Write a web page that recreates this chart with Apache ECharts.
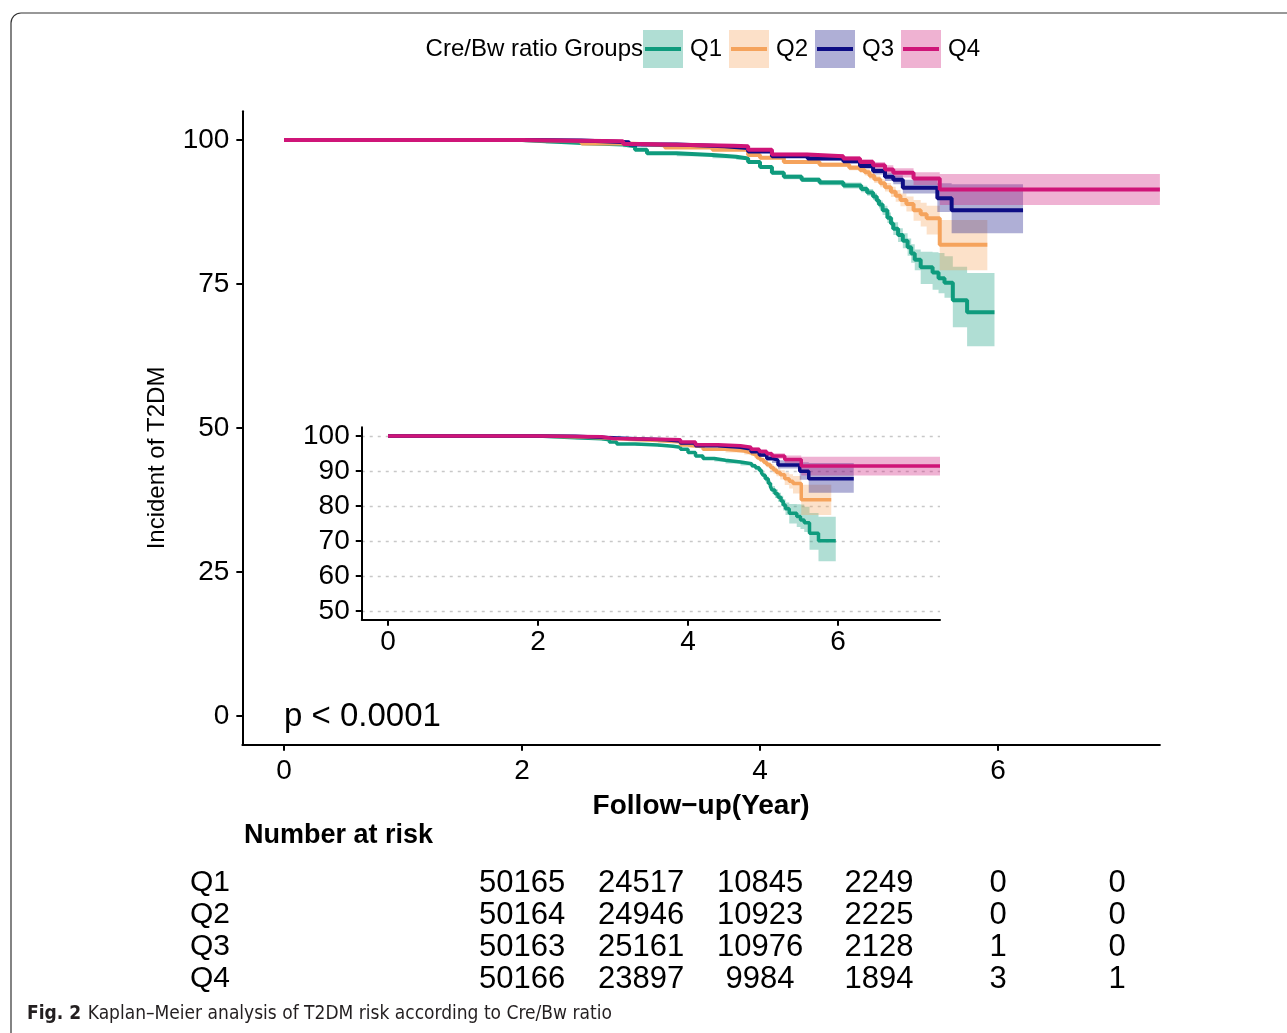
<!DOCTYPE html>
<html>
<head>
<meta charset="utf-8">
<title>Kaplan-Meier analysis of T2DM risk according to Cre/Bw ratio</title>
<script src="https://cdn.jsdelivr.net/npm/echarts@6/dist/echarts.min.js"></script>
<style>
  html, body { margin: 0; padding: 0; background: #fff; }
  #chart-container { width: 1287px; height: 1033px; }
</style>
</head>
<body>
<div id="chart-container"></div>
<script>
// ---- data (survival in %, time in years) ----
var groups = ['Q1', 'Q2', 'Q3', 'Q4'];

var q1Time  = [0, 2.0, 2.2, 2.5, 2.85, 2.95, 3.05, 3.3, 3.6, 3.8, 3.9, 4.0, 4.1, 4.2, 4.35, 4.5, 4.7, 4.85, 4.9, 4.95, 4.98, 5.0, 5.03, 5.07, 5.1, 5.12, 5.16, 5.2, 5.24, 5.27, 5.3, 5.35, 5.45, 5.5, 5.55, 5.62, 5.74, 5.97];
var q1Surv  = [100, 99.8, 99.5, 99.2, 98.9, 98.3, 97.7, 97.4, 97.1, 96.8, 96.2, 95.3, 94.3, 93.6, 93.1, 92.6, 92.1, 91.5, 90.9, 90.2, 89.5, 88.8, 87.8, 86.5, 85.5, 84.6, 83.5, 82.5, 81.4, 80.3, 79.2, 77.9, 77.0, 76.0, 75.2, 72.2, 70.1, 70.1];
var q1Lower = [100, 99.7, 99.4, 99.05, 98.75, 98.1, 97.5, 97.2, 96.85, 96.55, 95.9, 95.0, 93.95, 93.2, 92.7, 92.15, 91.6, 90.95, 90.3, 89.6, 88.85, 88.1, 87.0, 85.6, 84.5, 83.5, 82.3, 81.2, 79.9, 78.7, 77.4, 75.0, 74.0, 73.4, 72.6, 67.5, 64.2, 64.2];
var q1Upper = [100, 99.9, 99.6, 99.35, 99.05, 98.5, 97.9, 97.6, 97.35, 97.05, 96.5, 95.6, 94.65, 94.0, 93.5, 93.05, 92.6, 92.05, 91.5, 90.8, 90.15, 89.5, 88.6, 87.4, 86.5, 85.7, 84.7, 83.8, 82.9, 81.9, 81.0, 80.6, 80.5, 80.4, 79.8, 78.0, 76.9, 76.9];

var q2Time  = [0, 2.0, 2.5, 2.9, 3.2, 3.6, 3.9, 4.0, 4.2, 4.5, 4.75, 4.84, 4.88, 4.92, 4.96, 5.01, 5.05, 5.1, 5.14, 5.18, 5.23, 5.29, 5.35, 5.4, 5.51, 5.91];
var q2Surv  = [100, 99.8, 99.4, 99.1, 98.7, 98.3, 97.4, 96.9, 96.2, 95.7, 95.2, 94.8, 94.4, 93.8, 93.2, 92.5, 91.8, 91.0, 90.3, 89.6, 88.9, 87.8, 87.1, 86.4, 81.8, 81.8];
var q2Lower = [100, 99.7, 99.3, 98.95, 98.5, 98.1, 97.15, 96.6, 95.9, 95.3, 94.75, 94.3, 93.85, 93.2, 92.55, 91.8, 91.05, 90.1, 89.3, 88.5, 87.6, 86.0, 85.0, 83.6, 77.4, 77.4];
var q2Upper = [100, 99.9, 99.5, 99.25, 98.9, 98.5, 97.65, 97.2, 96.5, 96.1, 95.65, 95.3, 94.95, 94.4, 93.85, 93.2, 92.55, 91.9, 91.3, 90.7, 90.2, 89.6, 89.1, 88.6, 86.1, 86.1];

var q3Time  = [0, 2.0, 2.5, 2.9, 3.3, 3.7, 3.9, 4.1, 4.4, 4.7, 4.84, 4.95, 5.05, 5.12, 5.2, 5.49, 5.61, 6.21];
var q3Surv  = [100, 99.9, 99.6, 99.2, 98.9, 98.6, 98.0, 97.2, 96.8, 96.3, 95.5, 94.6, 93.6, 93.1, 91.7, 89.9, 87.8, 87.8];
var q3Lower = [100, 99.8, 99.5, 99.05, 98.7, 98.4, 97.75, 96.9, 96.45, 95.9, 95.0, 94.0, 92.9, 92.3, 90.7, 87.5, 83.8, 83.8];
var q3Upper = [100, 100, 99.7, 99.35, 99.1, 98.8, 98.25, 97.5, 97.15, 96.7, 96.0, 95.2, 94.3, 93.9, 93.1, 92.5, 92.3, 92.3];

var q4Time  = [0, 2.0, 2.85, 3.0, 3.77, 3.9, 4.1, 4.4, 4.7, 4.84, 4.95, 5.05, 5.12, 5.29, 5.51, 7.36];
var q4Surv  = [100, 99.8, 99.3, 99.0, 98.9, 98.3, 97.5, 97.2, 96.8, 96.2, 95.6, 94.9, 94.3, 93.3, 91.4, 91.4];
var q4Lower = [100, 99.7, 99.15, 98.85, 98.7, 98.05, 97.2, 96.85, 96.4, 95.7, 95.0, 94.2, 93.5, 92.2, 88.7, 88.7];
var q4Upper = [100, 99.9, 99.45, 99.15, 99.1, 98.55, 97.8, 97.55, 97.2, 96.7, 96.2, 95.6, 95.1, 94.4, 94.1, 94.1];

// number at risk table
var riskTimes = [2, 3, 4, 5, 6, 7];
var riskQ1 = [50165, 24517, 10845, 2249, 0, 0];
var riskQ2 = [50164, 24946, 10923, 2225, 0, 0];
var riskQ3 = [50163, 25161, 10976, 2128, 1, 0];
var riskQ4 = [50166, 23897, 9984, 1894, 3, 1];

var mainYTicks = [0, 25, 50, 75, 100];
var insetYTicks = [50, 60, 70, 80, 90, 100];
var xTicks = [0, 2, 4, 6];

// ---- styling ----
var lineColors = ['#0F9B7D', '#F5A35C', '#0D0D84', '#CF1578'];
var bandColors = ['rgba(15,155,125,0.33)', 'rgba(245,163,92,0.33)', 'rgba(13,13,132,0.33)', 'rgba(207,21,120,0.33)'];
var keyFills = ['#b0ded4', '#fce0c8', '#afafd6', '#efb2d2'];
var FONT = "'Liberation Sans', Arial, sans-serif";
var NARROW = "'Liberation Sans Narrow', 'DejaVu Sans Condensed', 'Liberation Sans', sans-serif";

var times = [q1Time, q2Time, q3Time, q4Time];
var survs = [q1Surv, q2Surv, q3Surv, q4Surv];
var lowers = [q1Lower, q2Lower, q3Lower, q4Lower];
var uppers = [q1Upper, q2Upper, q3Upper, q4Upper];
var risks = [riskQ1, riskQ2, riskQ3, riskQ4];

var xMin = -0.35, xMax = 7.36;

function pairs(t, v) {
  return t.map(function (x, i) { return [x, v[i]]; });
}

// confidence band as one stepped polygon, placed with the axis scales
function bandRenderer(i) {
  return function (params, api) {
    var t = times[i], lo = lowers[i], up = uppers[i], n = t.length;
    var pts = [];
    for (var j = 0; j < n; j++) {
      pts.push(api.coord([t[j], up[j]]));
      if (j < n - 1) pts.push(api.coord([t[j + 1], up[j]]));
    }
    for (var m = n - 1; m >= 0; m--) {
      if (m < n - 1) pts.push(api.coord([t[m + 1], lo[m]]));
      pts.push(api.coord([t[m], lo[m]]));
    }
    return {
      type: 'polygon',
      shape: { points: pts },
      style: { fill: bandColors[i] }
    };
  };
}

// one number of the risk table, centred on its time column
function riskRenderer(params, api) {
  var p = api.coord([api.value(0), api.value(1)]);
  return {
    type: 'text', x: p[0], y: p[1],
    style: {
      text: String(api.value(2)), fill: '#000', font: '31px ' + FONT,
      textAlign: 'center', textVerticalAlign: 'middle'
    }
  };
}

var dom = document.getElementById('chart-container');
var myChart = echarts.init(dom, null, { renderer: 'canvas' });

var series = [];
// 0 = main panel, 1 = inset
[0, 1].forEach(function (k) {
  groups.forEach(function (g, i) {
    series.push({
      type: 'custom', xAxisIndex: k, yAxisIndex: k, silent: true, clip: true,
      data: [[times[i][0], survs[i][0]]],
      renderItem: bandRenderer(i), z: 1
    });
  });
  groups.forEach(function (g, i) {
    series.push({
      name: g, type: 'line', xAxisIndex: k, yAxisIndex: k, step: 'end',
      data: pairs(times[i], survs[i]), symbol: 'none', silent: true,
      lineStyle: { color: lineColors[i], width: k === 0 ? 4 : 3.5 }, z: 3
    });
  });
});

// number at risk
groups.forEach(function (g, i) {
  series.push({
    type: 'custom', xAxisIndex: 2, yAxisIndex: 2, silent: true,
    data: riskTimes.map(function (t, j) { return [t, i, risks[i][j]]; }),
    renderItem: riskRenderer
  });
});

var axisLine = { show: true, onZero: false, lineStyle: { color: '#000', width: 2 } };
var axisTick = { show: true, length: 6, lineStyle: { color: '#000', width: 2 } };

// legend drawn as key boxes like the figure
var graphics = [
  { type: 'rect', shape: { x: 11, y: 13, width: 1400, height: 1100, r: 10 },
    style: { fill: 'none', stroke: '#333', lineWidth: 1.2 }, silent: true },
  { type: 'text', x: 643, y: 49,
    style: { text: 'Cre/Bw ratio Groups', font: '24px ' + FONT, fill: '#000', textAlign: 'right', textVerticalAlign: 'middle' } },
  { type: 'text', x: 284, y: 717,
    style: { text: 'p < 0.0001', font: '33px ' + FONT, fill: '#000', textAlign: 'left', textVerticalAlign: 'middle' } },
  { type: 'text', x: 157, y: 458, rotation: Math.PI / 2,
    style: { text: 'Incident of T2DM', font: '24px ' + FONT, fill: '#000', textAlign: 'center', textVerticalAlign: 'middle' } },
  { type: 'text', x: 244, y: 836,
    style: { text: 'Number at risk', font: 'bold 27px ' + FONT, fill: '#000', textAlign: 'left', textVerticalAlign: 'middle' } },
  { type: 'text', x: 27, y: 1014,
    style: {
      text: '{b|Fig. 2}  {r|Kaplan\u2013Meier analysis of T2DM risk according to Cre/Bw ratio}',
      textVerticalAlign: 'middle',
      rich: {
        b: { font: 'bold 19px ' + NARROW, fill: '#231f20' },
        r: { font: '19px ' + NARROW, fill: '#231f20' }
      }
    } }
];
groups.forEach(function (g, i) {
  var x0 = 643 + i * 86;
  graphics.push({ type: 'rect', shape: { x: x0, y: 30, width: 40, height: 38 }, style: { fill: keyFills[i] } });
  graphics.push({ type: 'line', shape: { x1: x0 + 2, y1: 49, x2: x0 + 38, y2: 49 }, style: { stroke: lineColors[i], lineWidth: 4 } });
  graphics.push({ type: 'text', x: x0 + 47, y: 49,
    style: { text: g, font: '24px ' + FONT, fill: '#000', textVerticalAlign: 'middle' } });
});

var option = {
  backgroundColor: '#fff',
  animation: false,
  grid: [
    { left: 242.35, right: 127.1, top: 111.2, bottom: 288.2 },
    { left: 361.75, right: 347, top: 427.25, bottom: 413.25 },
    { left: 242.35, right: 127.1, top: 867, bottom: 38 }
  ],
  xAxis: [
    {
      type: 'value', gridIndex: 0, min: xMin, max: xMax,
      axisLine: axisLine, axisTick: Object.assign({ customValues: xTicks }, axisTick),
      axisLabel: { customValues: xTicks, color: '#000', fontSize: 28, fontFamily: FONT, margin: 12 },
      splitLine: { show: false },
      name: 'Follow\u2212up(Year)', nameLocation: 'middle', nameGap: 47,
      nameTextStyle: { color: '#000', fontSize: 28, fontWeight: 'bold', fontFamily: FONT }
    },
    {
      type: 'value', gridIndex: 1, min: xMin, max: xMax,
      axisLine: axisLine, axisTick: Object.assign({ customValues: xTicks }, axisTick),
      axisLabel: { customValues: xTicks, color: '#000', fontSize: 28, fontFamily: FONT, margin: 9 },
      splitLine: { show: false }
    },
    { type: 'value', gridIndex: 2, min: xMin, max: xMax, show: false }
  ],
  yAxis: [
    {
      type: 'value', gridIndex: 0, min: -5, max: 105,
      axisLine: axisLine, axisTick: Object.assign({ customValues: mainYTicks }, axisTick),
      axisLabel: { customValues: mainYTicks, color: '#000', fontSize: 28, fontFamily: FONT, margin: 13 },
      splitLine: { show: false }
    },
    {
      type: 'value', gridIndex: 1, min: 47.5, max: 102.5,
      axisLine: axisLine, axisTick: Object.assign({ customValues: insetYTicks }, axisTick),
      axisLabel: { customValues: insetYTicks, color: '#000', fontSize: 28, fontFamily: FONT, margin: 12 },
      splitLine: { show: true, lineStyle: { color: '#c8c8c8', type: [3, 5], width: 1.3 } }
    },
    {
      type: 'category', gridIndex: 2, data: groups, inverse: true,
      axisLine: { show: false }, axisTick: { show: false }, splitLine: { show: false },
      axisLabel: { interval: 0, color: '#000', fontSize: 30, fontFamily: FONT, align: 'left', margin: 52.35 }
    }
  ],
  graphic: graphics,
  series: series
};

myChart.setOption(option);
window.addEventListener('resize', myChart.resize);
</script>
</body>
</html>
